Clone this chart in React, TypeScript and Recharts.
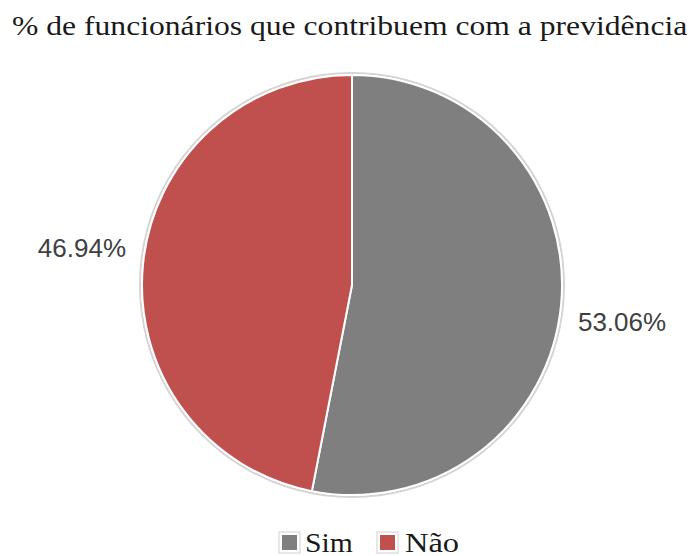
import React from 'react';
import { PieChart, Pie, Cell, Legend } from 'recharts';

const categories = ['Sim', 'Não'];
const values = [53.06, 46.94];
const colors = ['#7f7f7f', '#c0504d'];
const title = '% de funcionários que contribuem com a previdência';
const ringValues = [1];

const data = categories.map((name, i) => ({ name, value: values[i] }));
const ringData = ringValues.map((value) => ({ name: 'ring', value }));

const W = 697;
const H = 556;
const RADIAN = Math.PI / 180;
const SANS = 'Liberation Sans';

const renderLabel = (props: any) => {
  const { cx, cy, midAngle, outerRadius, value } = props;
  const r = outerRadius + 17;
  const cos = Math.cos(-midAngle * RADIAN);
  const sin = Math.sin(-midAngle * RADIAN);
  const x = cx + r * cos;
  const y = cy + r * sin + Math.sign(sin) * 15;
  return (
    <text
      x={x}
      y={y}
      textAnchor={cos >= 0 ? 'start' : 'end'}
      dominantBaseline="central"
      fill="#404040"
      fontFamily={SANS}
      fontSize={26}
    >
      {`${Number(value).toFixed(2)}%`}
    </text>
  );
};

const legendLayout = [
  { sq: 282, tx: 305, sx: 1.06 },
  { sq: 380, tx: 405, sx: 1.16 },
];

const renderLegend = () => (
  <svg width={W} height={31} style={{ display: 'block', overflow: 'visible' }}>
    {categories.map((name, i) => {
      const l = legendLayout[i];
      return (
        <g key={name}>
          <rect x={l.sq - 3} y={7} width={21} height={21} fill="#fff" stroke="#d0d0d0" strokeWidth={1} />
          <rect x={l.sq} y={10} width={15} height={15} fill={colors[i]} />
          <g transform={`translate(${l.tx},27) scale(${l.sx},1)`}>
            <text x={0} y={0} fill="#1a1a1a" fontFamily="Tinos" fontSize={28}>
              {name}
            </text>
          </g>
        </g>
      );
    })}
  </svg>
);

export default function App() {
  return (
    <div style={{ position: 'absolute', left: 0, top: 0, width: W, height: H, background: '#fff' }}>
      <svg width={W} height={60} style={{ position: 'absolute', left: 0, top: 0 }}>
        <g transform="translate(12,35) scale(1.13,1)">
          <text x={0} y={0} fill="#1a1a1a" fontFamily="Tinos" fontSize={28}>
            {title}
          </text>
        </g>
      </svg>
      <PieChart width={W} height={H} margin={{ top: 0, right: 0, bottom: 0, left: 0 }}>
        <Pie
          data={ringData}
          dataKey="value"
          cx={352}
          cy={285}
          innerRadius={211}
          outerRadius={213}
          startAngle={90}
          endAngle={-270}
          fill="#d4d4d4"
          stroke="none"
          legendType="none"
          isAnimationActive={false}
        />
        <Pie
          data={data}
          dataKey="value"
          nameKey="name"
          cx={352}
          cy={285}
          outerRadius={210}
          startAngle={90}
          endAngle={-270}
          stroke="#ffffff"
          strokeWidth={2}
          label={renderLabel}
          labelLine={false}
          isAnimationActive={false}
        >
          {data.map((d, i) => (
            <Cell key={d.name} fill={colors[i]} />
          ))}
        </Pie>
        <Legend
          content={renderLegend}
          wrapperStyle={{ position: 'absolute', left: 0, top: 525, width: W, height: 31 }}
        />
      </PieChart>
    </div>
  );
}
